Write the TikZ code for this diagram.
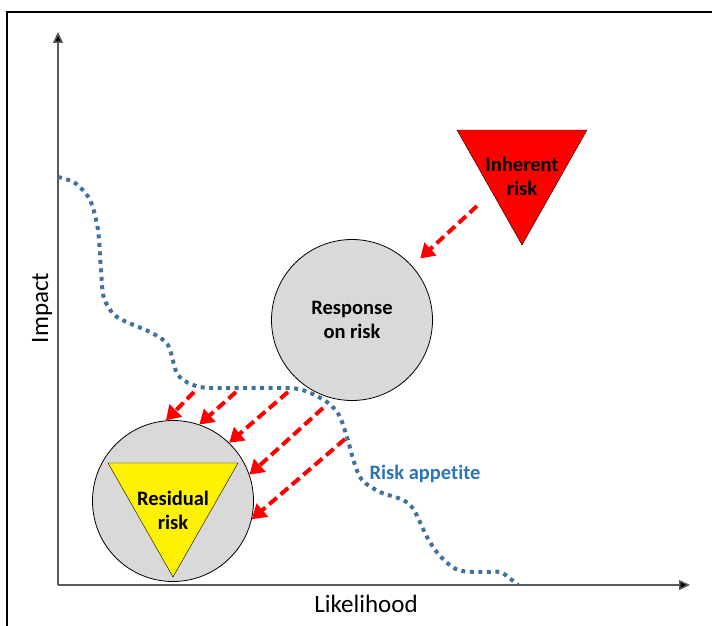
\documentclass[tikz,border=0pt]{standalone}
\usepackage{fontspec}
\setmainfont[Ligatures=NoCommon]{Carlito}
\usepackage{xcolor}
\usetikzlibrary{calc,arrows.meta}
\definecolor{appetite}{HTML}{41719C}
\definecolor{appetitetext}{HTML}{2E75B6}
\definecolor{riskgray}{HTML}{D9D9D9}
\definecolor{axisgray}{HTML}{595959}
\tikzset{
  riskarrow/.style={draw=red, line width=4pt, dash pattern=on 10pt off 5pt,
    -{Triangle[length=14pt,width=17pt]}},
  riskcircle/.style={circle, draw, thick, fill=riskgray, minimum size=161pt,
    inner sep=0pt, align=center, font=\fontsize{20.5}{24}\selectfont\bfseries},
  risklabel/.style={align=center, font=\fontsize{20.5}{24}\selectfont\bfseries},
  axislabel/.style={font=\fontsize{25}{28}\selectfont}
}

\begin{document}
\begin{tikzpicture}[x=1pt,y=-1pt]
\useasboundingbox (0,0) rectangle (712,626);
\draw[line width=2pt] (7,626) -- (7,12) -- (712,12);
% axes
\coordinate (origin) at (58,585);
\coordinate (xend) at (690,585);
\coordinate (yend) at (58,32);
\draw[axisgray, line width=1.5pt, -{Triangle[length=11pt,width=10pt,fill=black]}] (origin) -- (xend);
\draw[axisgray, line width=1.5pt, -{Triangle[length=11pt,width=10pt,fill=black]}] (origin) -- (yend);
\node[axislabel] (likelihood) at (366,604) {Likelihood};
\node[axislabel, rotate=90] (impact) at (42,308) {Impact};
% risk appetite line
\draw[appetite, line width=4pt, dash pattern=on 4pt off 4.5pt] plot[smooth, tension=0.5] coordinates {
  (58,177) (75,183) (90,200) (98,230) (101,270) (104,298) (117,317) (150,332)
  (168,345) (178,375) (200,387) (240,388) (290,388) (308,392) (327,402) (339,415)
  (347,437) (354,462) (362,480) (380,492) (403,500) (414,510) (427,537) (440,556)
  (458,570) (483,572) (500,572) (512,580) (518,585)};
\node[font=\fontsize{20.5}{24}\selectfont\bfseries, text=appetitetext] (appetite) at (425,474) {Risk appetite};
% circles
\node[riskcircle] (response) at (352,320) {Response\\on risk};
\node[riskcircle] (residual) at (173,501) {};
% triangles
\draw[fill=red] (457,130) -- (587,130) -- (522,245) -- cycle;
\node[risklabel] (inherent) at (522,176) {Inherent\\risk};
\draw[fill=yellow] (108,463) -- (238,463) -- (173,577) -- cycle;
\node[risklabel] (residuallabel) at (173,510) {Residual\\risk};
% arrows
\coordinate (inherentstart) at (477,206);
\draw[riskarrow, shorten >=11pt] (inherentstart) -- (response.42);
\foreach \sx/\sy/\a [count=\i] in {194/392/95, 236/392/71, 288/392/46, 323/408/19, 345/439/-13}{
  \coordinate (start\i) at (\sx,\sy);
  \draw[riskarrow] (start\i) -- (residual.\a);
}
\end{tikzpicture}
\end{document}
